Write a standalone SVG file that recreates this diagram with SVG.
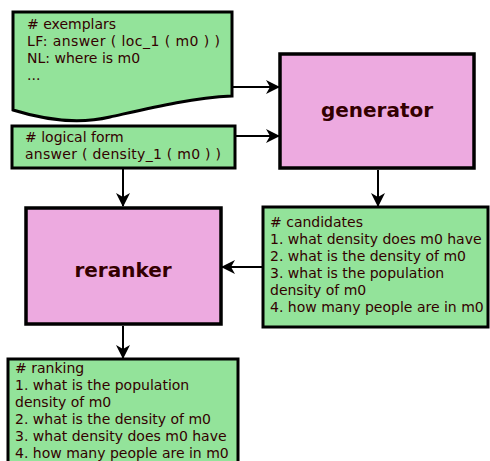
<svg xmlns="http://www.w3.org/2000/svg" width="490" height="461" viewBox="0 0 490 461">
<defs>
<marker id="ah" viewBox="0 0 14 14" refX="13" refY="7" markerWidth="14" markerHeight="14" markerUnits="userSpaceOnUse" orient="auto">
<path d="M0,0 L14,7 L0,14 L4,7 Z" fill="#000"/>
</marker>
</defs>
<style>
.note{fill:#93e39a;stroke:#000;stroke-width:3}
.proc{fill:#edaae0;stroke:#000;stroke-width:3.5}
.t{font-family:"DejaVu Sans",Verdana,sans-serif;font-size:14px;fill:#330000}
.lbl{font-family:"DejaVu Sans",Verdana,sans-serif;font-size:20px;font-weight:bold;fill:#330000;text-anchor:middle}
.edge{stroke:#000;stroke-width:2;fill:none;marker-end:url(#ah)}
</style>
<g id="exemplars">
<path class="note" d="M13,12 H232 V96 C190,98 150,108 110,117 C80,124 45,120 13,110 Z"/>
<text class="t">
<tspan x="27" y="29"># exemplars</tspan>
<tspan x="27" y="46" textLength="193" lengthAdjust="spacing">LF: answer ( loc_1 ( m0 ) )</tspan>
<tspan x="27" y="63">NL: where is m0</tspan>
<tspan x="27" y="80">...</tspan>
</text>
</g>
<g id="logical-form">
<rect class="note" x="12" y="126" width="223" height="42"/>
<text class="t">
<tspan x="25" y="142"># logical form</tspan>
<tspan x="25" y="159" textLength="196" lengthAdjust="spacing">answer ( density_1 ( m0 ) )</tspan>
</text>
</g>
<g id="generator">
<rect class="proc" x="280" y="54" width="194" height="114"/>
<text class="lbl" x="377" y="117">generator</text>
</g>
<g id="candidates">
<rect class="note" x="263" y="207" width="225" height="120"/>
<text class="t">
<tspan x="270" y="227"># candidates</tspan>
<tspan x="270" y="244">1. what density does m0 have</tspan>
<tspan x="270" y="261">2. what is the density of m0</tspan>
<tspan x="270" y="278">3. what is the population</tspan>
<tspan x="270" y="295">density of m0</tspan>
<tspan x="270" y="312">4. how many people are in m0</tspan>
</text>
</g>
<g id="reranker">
<rect class="proc" x="26" y="208" width="195" height="116"/>
<text class="lbl" x="123" y="277">reranker</text>
</g>
<g id="ranking">
<rect class="note" x="8" y="359" width="230" height="106"/>
<text class="t">
<tspan x="15" y="373"># ranking</tspan>
<tspan x="15" y="390">1. what is the population</tspan>
<tspan x="15" y="407">density of m0</tspan>
<tspan x="15" y="424">2. what is the density of m0</tspan>
<tspan x="15" y="441">3. what density does m0 have</tspan>
<tspan x="15" y="458">4. how many people are in m0</tspan>
</text>
</g>
<g id="connectors">
<path class="edge" d="M233,87 H279"/>
<path class="edge" d="M236,136 H279"/>
<path class="edge" d="M123,169 V206"/>
<path class="edge" d="M378,170 V206"/>
<path class="edge" d="M262,267 H222"/>
<path class="edge" d="M123,326 V358"/>
</g>
</svg>
